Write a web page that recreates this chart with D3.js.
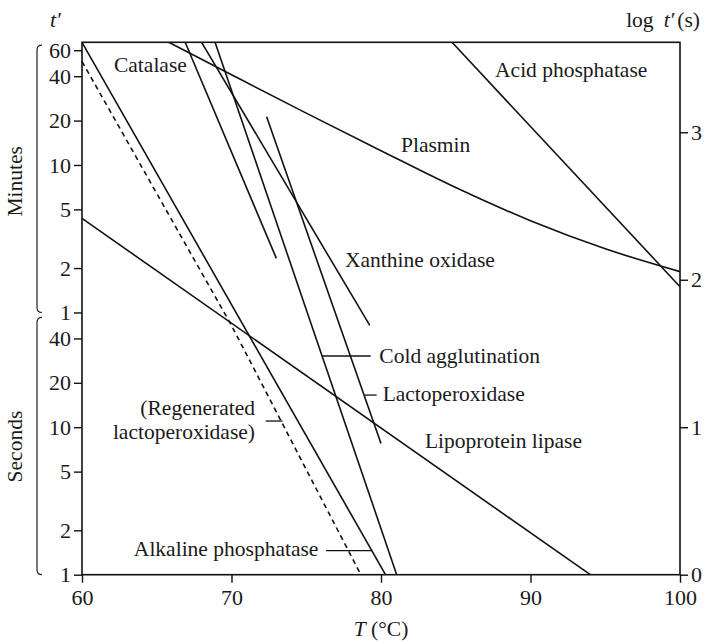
<!DOCTYPE html>
<html>
<head>
<meta charset="utf-8">
<script src="https://cdn.jsdelivr.net/npm/d3@7"></script>
<style>
  html, body { margin: 0; padding: 0; background: #fff; }
  svg text { font-family: "Liberation Serif", "Times New Roman", serif; fill: #1a1a1a; }
</style>
</head>
<body>
<svg id="chart" width="707" height="644"></svg>
<script>
// ---- data (temperature °C, log10 t' in seconds) ----
const catalase        = [[66.9, 3.61], [73.0, 2.145]];
const xanthineOxidase = [[68.0, 3.61], [79.25, 1.69]];
const coldAgglut      = [[68.9, 3.61], [81.05, 0]];
const lactoperoxidase = [[72.35, 3.105], [80.0, 0.89]];
const alkalinePhos    = [[60.0, 3.61], [80.3, 0]];
const regenLactoperox = [[60.0, 3.48], [70.0, 1.69], [78.65, 0]];
const lipoproteinLip  = [[60.0, 2.416], [94.0, 0]];
const acidPhos        = [[84.75, 3.61], [100.0, 1.953]];
const plasmin         = [[65.8, 3.61], [70, 3.39], [75, 3.13], [80, 2.875], [85, 2.625], [90, 2.40], [95, 2.21], [100, 2.055]];

const xTicks = [60, 70, 80, 90, 100];
const minuteTicks = [1, 2, 5, 10, 20, 40, 60];
const secondTicks = [1, 2, 5, 10, 20, 40];
const logTicks = [0, 1, 2, 3];

const solidSeries = [catalase, xanthineOxidase, coldAgglut, lactoperoxidase, alkalinePhos, lipoproteinLip, acidPhos];

// label text anchors in data coords: [T, logt, text, anchor]
const labels = [
  [62.14, 3.406, "Catalase", "start"],
  [87.63, 3.376, "Acid phosphatase", "start"],
  [81.34, 2.868, "Plasmin", "start"],
  [77.59, 2.088, "Xanthine oxidase", "start"],
  [79.89, 1.435, "Cold agglutination", "start"],
  [80.11, 1.178, "Lactoperoxidase", "start"],
  [82.94, 0.857, "Lipoprotein lipase", "start"],
  [71.57, 1.083, "(Regenerated", "end"],
  [71.57, 0.918, "lactoperoxidase)", "end"],
  [75.81, 0.127, "Alkaline phosphatase", "end"]
];
// leader lines: [T1, T2, logt]
const leaders = [
  [76.06, 79.31, 1.483],
  [78.93, 79.71, 1.218],
  [72.29, 73.42, 1.042],
  [76.32, 79.38, 0.163]
];

// ---- layout ----
const svg = d3.select("#chart");
const x = d3.scaleLinear().domain([60, 100]).range([82, 680]);
const y = d3.scaleLinear().domain([0, 3.61]).range([574.7, 42.3]);
const FS = 21.5;
const TFS = 22;
const LW = 1.6;

// frame
svg.append("rect")
  .attr("x", x(60)).attr("y", y(3.61))
  .attr("width", x(100) - x(60)).attr("height", y(0) - y(3.61))
  .attr("fill", "none").attr("stroke", "#111").attr("stroke-width", 1.6);

function styleAxis(g) {
  g.select(".domain").remove();
  g.attr("font-family", null);
  g.selectAll(".tick line").attr("stroke", "#111").attr("stroke-width", 1.4);
  g.selectAll(".tick text").attr("font-size", TFS).attr("fill", "#1a1a1a");
}

// bottom axis
svg.append("g").attr("transform", `translate(0,${y(0)})`)
  .call(d3.axisBottom(x).tickValues(xTicks).tickSize(8).tickPadding(7).tickFormat(d3.format("d")))
  .call(styleAxis);

// right axis
svg.append("g").attr("transform", `translate(${x(100)},0)`)
  .call(d3.axisRight(y).tickValues(logTicks).tickSize(8).tickPadding(3).tickFormat(d3.format("d")))
  .call(styleAxis);

// left axis: minutes and seconds
const leftVals = minuteTicks.map(m => ({v: Math.log10(m * 60), t: String(m)}))
  .concat(secondTicks.map(s => ({v: Math.log10(s), t: String(s)})));
svg.append("g").attr("transform", `translate(${x(60)},0)`)
  .call(d3.axisLeft(y).tickValues(leftVals.map(d => d.v)).tickSize(8).tickPadding(3)
    .tickFormat((d, i) => leftVals[i].t))
  .call(styleAxis);

// braces
function brace(y0, y1) {
  const bx = 37, hx = 42, r = 5;
  return `M${hx},${y0} Q${bx},${y0} ${bx},${y0 + r} L${bx},${y1 - r} Q${bx},${y1} ${hx},${y1}`;
}
svg.append("path").attr("d", brace(y(Math.log10(3600)) - 5, y(Math.log10(60))))
  .attr("fill", "none").attr("stroke", "#222").attr("stroke-width", 1.2);
svg.append("path").attr("d", brace(y(Math.log10(60)) + 5, y(0)))
  .attr("fill", "none").attr("stroke", "#222").attr("stroke-width", 1.2);

svg.append("text").attr("transform", `translate(22,${(y(Math.log10(3600)) + y(Math.log10(60))) / 2}) rotate(-90)`)
  .attr("text-anchor", "middle").attr("font-size", FS).text("Minutes");
svg.append("text").attr("transform", `translate(22,${(y(Math.log10(60)) + y(0)) / 2 + 3}) rotate(-90)`)
  .attr("text-anchor", "middle").attr("font-size", FS).text("Seconds");

// axis titles
svg.append("text").attr("x", 50).attr("y", 27).attr("font-size", TFS)
  .append("tspan").attr("font-style", "italic").text("t′");
const lt = svg.append("text").attr("x", 700).attr("y", 27).attr("font-size", FS).attr("text-anchor", "end");
lt.append("tspan").text("log");
lt.append("tspan").attr("dx", 10).attr("font-style", "italic").text("t′");
lt.append("tspan").attr("dx", 3).text("(s)");
const tt = svg.append("text").attr("x", x(80)).attr("y", 636).attr("font-size", FS).attr("text-anchor", "middle");
tt.append("tspan").attr("font-style", "italic").text("T");
tt.append("tspan").text(" (°C)");

// lines
const line = d3.line().x(d => x(d[0])).y(d => y(d[1]));
const plot = svg.append("g");
solidSeries.forEach(s => {
  plot.append("path").attr("d", line(s)).attr("fill", "none")
    .attr("stroke", "#111").attr("stroke-width", LW);
});
plot.append("path").attr("d", d3.line().x(d => x(d[0])).y(d => y(d[1])).curve(d3.curveMonotoneX)(plasmin))
  .attr("fill", "none").attr("stroke", "#111").attr("stroke-width", LW);
plot.append("path").attr("d", line(regenLactoperox))
  .attr("fill", "none").attr("stroke", "#111").attr("stroke-width", LW).attr("stroke-dasharray", "5,4");

// leaders
leaders.forEach(l => {
  plot.append("line").attr("x1", x(l[0])).attr("x2", x(l[1])).attr("y1", y(l[2])).attr("y2", y(l[2]))
    .attr("stroke", "#111").attr("stroke-width", 1.3);
});

// labels
labels.forEach(l => {
  svg.append("text").attr("x", x(l[0])).attr("y", y(l[1])).attr("text-anchor", l[3])
    .attr("font-size", FS).text(l[2]);
});
</script>
</body>
</html>
